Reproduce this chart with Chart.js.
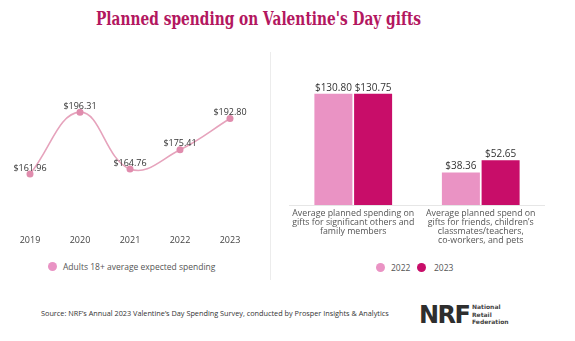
<!DOCTYPE html>
<html>
<head>
<meta charset="utf-8">
<script src="https://cdn.jsdelivr.net/npm/chart.js@4.4.1/dist/chart.umd.min.js"></script>
<style>
  html, body { margin:0; padding:0; background:#fff; }
  body { width:575px; height:341px; position:relative; overflow:hidden; font-family:"Open Sans", sans-serif; }
  #title { position:absolute; left:0; top:8px; white-space:nowrap; font-family:"DejaVu Serif", serif; font-weight:bold; font-size:18px; line-height:22px; color:#b3175f; transform-origin:0 0; }
  #divider { position:absolute; left:270px; top:52px; width:1px; height:228px; background:#ececec; }
  #leftWrap { position:absolute; left:0; top:60px; width:262px; height:200px; }
  #rightWrap { position:absolute; left:280px; top:60px; width:295px; height:200px; }
  .legend { position:absolute; font-size:8.5px; color:#555; white-space:nowrap; }
  .dot { position:absolute; width:9px; height:9px; border-radius:50%; }
  #source { position:absolute; left:41px; top:307.5px; font-size:7.3px; color:#333; white-space:nowrap; }
  #nrf { position:absolute; left:419px; top:301px; font-family:"DejaVu Sans", sans-serif; font-weight:bold; font-size:24px; color:#2e2e2e; letter-spacing:-1.5px; }
  #nrfSmall { position:absolute; left:472px; top:303px; font-family:"DejaVu Sans", sans-serif; font-weight:bold; font-size:6px; line-height:7.6px; color:#444; }
</style>
</head>
<body>
<div id="title">Planned spending on Valentine's Day gifts</div>
<div id="divider"></div>
<div id="leftWrap"><canvas id="lineChart" width="262" height="200"></canvas></div>
<div id="rightWrap"><canvas id="barChart" width="295" height="200"></canvas></div>

<div class="dot" style="left:47.5px; top:262px; background:#e993c4;"></div>
<div class="legend" style="left:63px; top:261px;">Adults 18+ average expected spending</div>

<div class="dot" style="left:375.5px; top:263px; background:#ea93c4;"></div>
<div class="legend" style="left:391px; top:262px;">2022</div>
<div class="dot" style="left:417px; top:263px; background:#c80d69;"></div>
<div class="legend" style="left:434px; top:262px;">2023</div>

<div id="source">Source: NRF’s Annual 2023 Valentine’s Day Spending Survey, conducted by Prosper Insights &amp; Analytics</div>
<div id="nrf">NRF</div>
<div id="nrfSmall">National<br>Retail<br>Federation</div>

<script>
// ---- Data ----
const years = ["2019", "2020", "2021", "2022", "2023"];
const adultSpending = [161.96, 196.31, 164.76, 175.41, 192.80];
const lineSeriesName = "Adults 18+ average expected spending";

const barCategories = [
  ["Average planned spending on", "gifts for significant others and", "family members"],
  ["Average planned spend on", "gifts for friends, children’s", "classmates/teachers,", "co-workers, and pets"]
];
const spend2022 = [130.80, 38.36];
const spend2023 = [130.75, 52.65];
const barSeriesNames = ["2022", "2023"];

// ---- Title fit ----
(function(){
  const t = document.getElementById('title');
  const w = t.getBoundingClientRect().width;
  const target = 325;
  const s = target / w;
  t.style.transform = 'scaleX(' + s + ')';
  t.style.left = (258.5 - target/2) + 'px';
})();

const fmt = v => '$' + v.toFixed(2);

const valueLabels = {
  id: 'valueLabels',
  afterDatasetsDraw(chart, args, opts) {
    const ctx = chart.ctx;
    chart.data.datasets.forEach((ds, i) => {
      const meta = chart.getDatasetMeta(i);
      meta.data.forEach((el, j) => {
        ctx.save();
        ctx.font = opts.font;
        ctx.fillStyle = opts.color;
        ctx.textAlign = 'center';
        ctx.textBaseline = 'middle';
        ctx.fillText(fmt(ds.data[j]), el.x, el.y - opts.offset);
        ctx.restore();
      });
    });
  }
};

new Chart(document.getElementById('lineChart'), {
  type: 'line',
  data: {
    labels: years,
    datasets: [{
      label: lineSeriesName,
      data: adultSpending,
      borderColor: '#e6a3bc',
      backgroundColor: '#e08cad',
      borderWidth: 1.6,
      pointRadius: 3.5,
      pointBackgroundColor: '#e08cad',
      pointBorderWidth: 0,
      tension: 0.42,
      fill: false
    }]
  },
  options: {
    responsive: false,
    animation: false,
    devicePixelRatio: 1,
    layout: { padding: { top: 45.5, left: 5, right: 7, bottom: 11.5 } },
    plugins: {
      legend: { display: false },
      tooltip: { enabled: false },
      valueLabels: { font: '9px "Open Sans"', color: '#333', offset: 6 }
    },
    scales: {
      x: {
        offset: true,
        grid: { display: false, drawTicks: false },
        border: { display: false },
        ticks: { color: '#444', font: { family: 'Open Sans', size: 9, lineHeight: 1.2 }, padding: 3 }
      },
      y: { display: false, min: 130, max: 200 }
    }
  },
  plugins: [valueLabels]
});

new Chart(document.getElementById('barChart'), {
  type: 'bar',
  data: {
    labels: barCategories,
    datasets: [
      { label: barSeriesNames[0], data: spend2022, backgroundColor: '#ea93c4', barPercentage: 0.957, categoryPercentage: 0.623 },
      { label: barSeriesNames[1], data: spend2023, backgroundColor: '#c80d69', barPercentage: 0.957, categoryPercentage: 0.623 }
    ]
  },
  options: {
    responsive: false,
    animation: false,
    devicePixelRatio: 1,
    layout: { padding: { top: 26, left: 9.5, right: 30.5, bottom: 7 } },
    plugins: {
      legend: { display: false },
      tooltip: { enabled: false },
      valueLabels: { font: '10px "Open Sans"', color: '#333', offset: 6 }
    },
    scales: {
      x: {
        afterFit: (scale) => { scale.height = 48; },
        grid: { display: false, drawTicks: false },
        border: { display: true, color: '#e6e6e6', width: 1 },
        ticks: { color: '#555', font: { family: 'Open Sans', size: 8.8, lineHeight: '9px' }, padding: 4, maxRotation: 0, autoSkip: false }
      },
      y: { display: false, min: 0, max: 140 }
    }
  },
  plugins: [valueLabels]
});
</script>
</body>
</html>
